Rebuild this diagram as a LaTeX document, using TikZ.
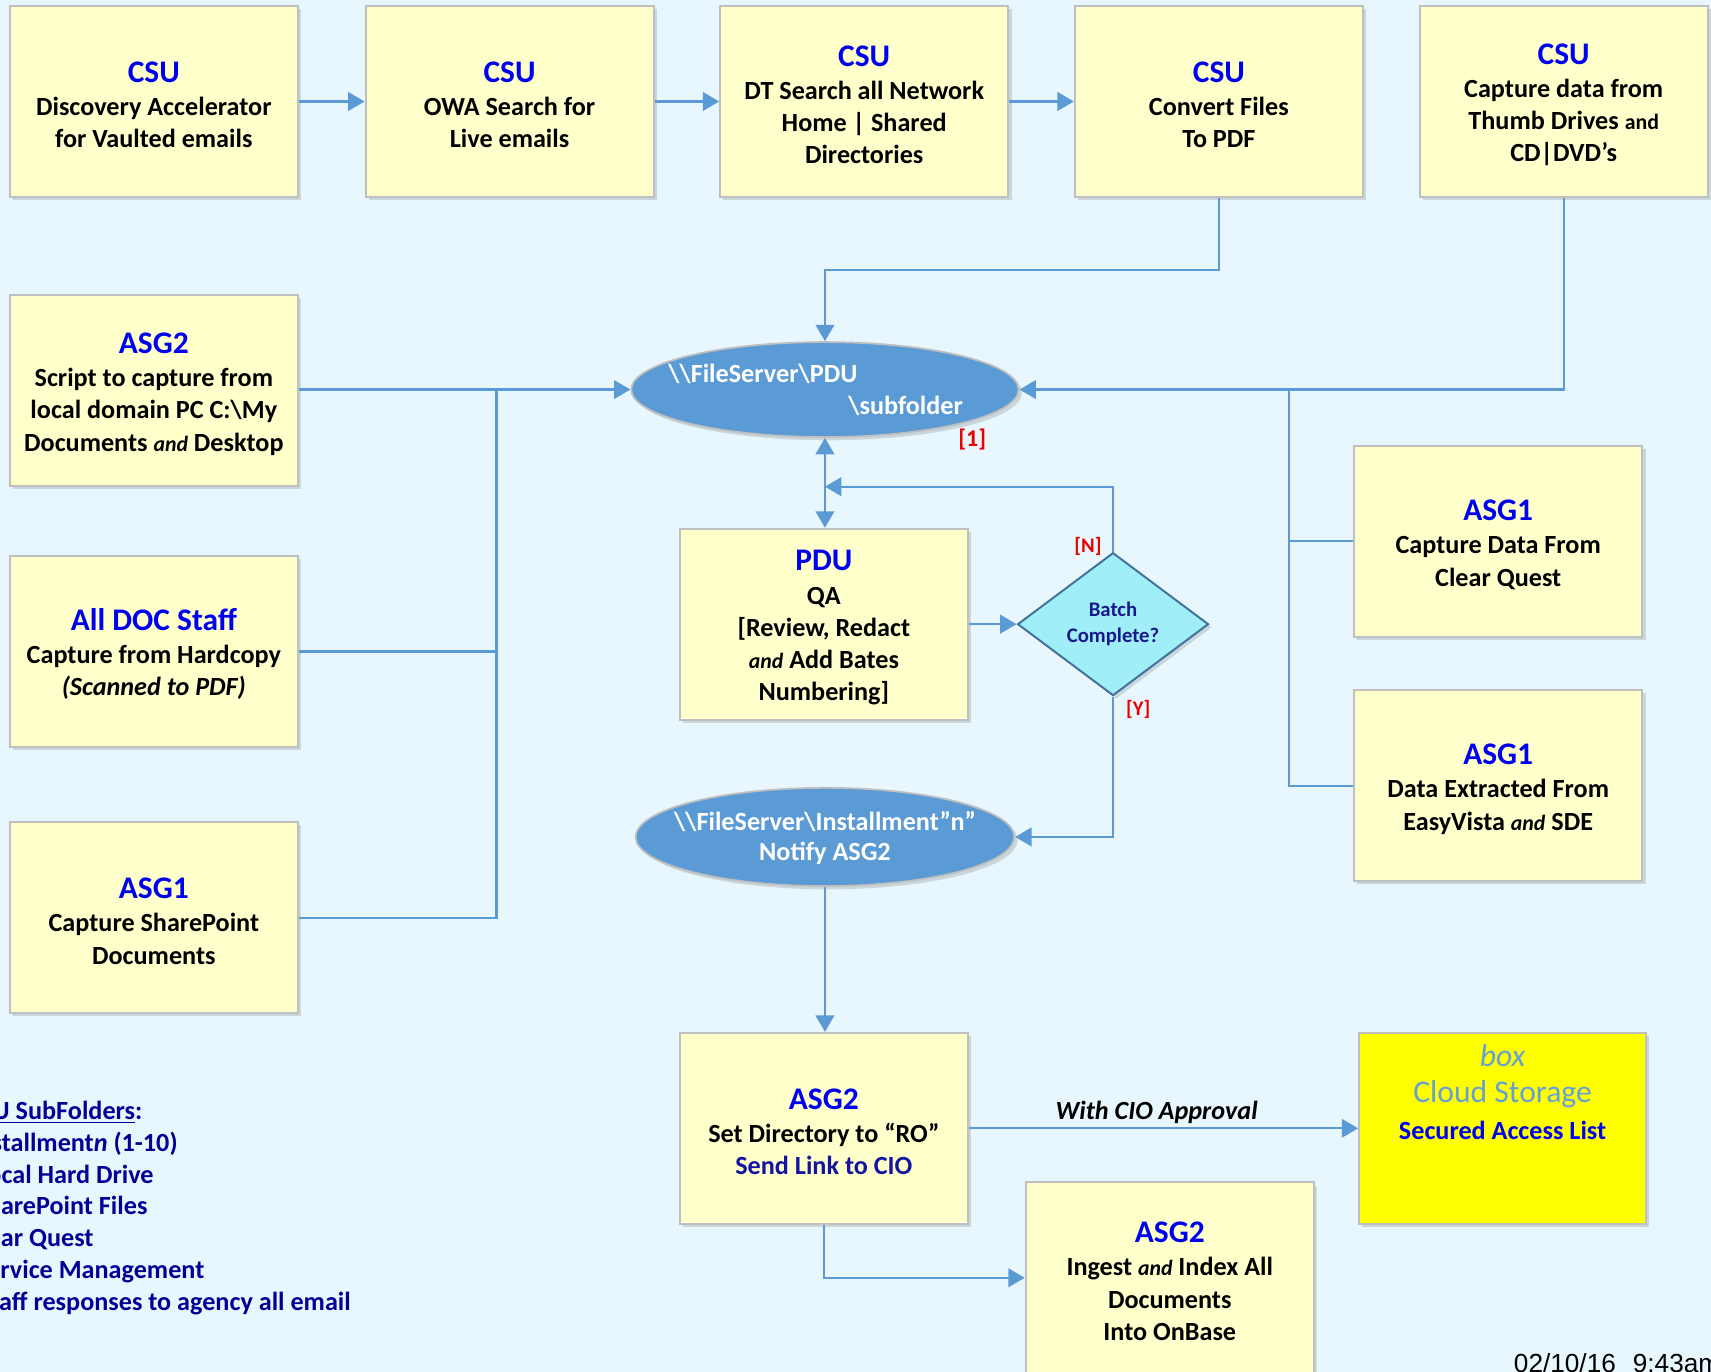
\documentclass[tikz,border=0pt]{standalone}
\usepackage{fontspec}
\setmainfont{Carlito}
\newfontfamily\datefont{Liberation Sans}
\usetikzlibrary{shapes.geometric, arrows.meta, shadows}
\definecolor{bg}{RGB}{232,247,253}
\definecolor{boxfill}{RGB}{255,255,204}
\definecolor{boxgray}{RGB}{191,191,191}
\definecolor{titleblue}{RGB}{0,0,240}
\definecolor{navy}{RGB}{0,0,150}
\definecolor{sendblue}{RGB}{20,20,160}
\definecolor{conncol}{RGB}{91,155,213}
\definecolor{diafill}{RGB}{160,238,248}
\definecolor{diadraw}{RGB}{65,113,156}
\definecolor{diatext}{RGB}{25,25,140}
\definecolor{cloudtxt}{RGB}{100,160,215}
\definecolor{ylw}{RGB}{255,255,0}
\definecolor{lred}{RGB}{235,0,0}
\newlength\hidw
\newcommand\legline[2]{\settowidth{\hidw}{#1}\hspace*{-\hidw}#1#2}
\newcommand\bodyf{\fontsize{12}{14.75}\selectfont\bfseries}
\newcommand\ttl[1]{{\fontsize{14.4}{17}\selectfont\color{titleblue}\rule{0pt}{12.5pt}#1}}
\newcommand\andi{{\fontsize{10}{12}\selectfont\itshape and}}
\begin{document}
\begin{tikzpicture}[x=0.5pt,y=-0.5pt,
  shad/.style={drop shadow={shadow xshift=1.5pt, shadow yshift=-1.5pt, opacity=0.13, fill=black}},
  proc/.style={rectangle, draw=boxgray, line width=0.9pt, fill=boxfill,
    minimum width=132pt, minimum height=87.5pt, inner sep=1pt, align=center,
    font=\bodyf, shad},
  conn/.style={draw=conncol, line width=1pt, -{Triangle[length=7.5pt,width=8.5pt]}},
  conn2/.style={draw=conncol, line width=1pt, {Triangle[length=7.5pt,width=8.5pt]}-{Triangle[length=7.5pt,width=8.5pt]}},
  wire/.style={draw=conncol, line width=1pt},
  ell/.style={ellipse, draw=boxgray, line width=0.8pt, fill=conncol, inner sep=0pt, shad},
  etext/.style={text=white, font=\bodyf, inner sep=0pt},
  redlab/.style={text=lred, inner sep=0pt},
  leg/.style={text=navy, font=\bodyf, inner sep=0pt, anchor=base west}]

\path[use as bounding box, clip] (0,0) rectangle (1568,1257);
\fill[bg] (0,0) rectangle (1568,1257);

% top row
\node[proc] (B1) at (141,93) {\ttl{CSU}\\[0.6pt] Discovery Accelerator\\ for Vaulted emails};
\node[proc] (B2) at (467,93) {\ttl{CSU}\\[0.6pt] OWA Search for\\ Live emails};
\node[proc] (B3) at (792,93) {\ttl{CSU}\\[0.6pt] DT Search all Network\\ Home | Shared\\ Directories};
\node[proc] (B4) at (1117,93) {\ttl{CSU}\\[0.6pt] Convert Files\\ To PDF};
\node[proc] (B5) at (1433,93) {\ttl{CSU}\\[0.6pt] Capture data from\\ Thumb Drives {\fontsize{10}{12}\selectfont and}\\ CD|DVD’s};

% left column
\node[proc] (L1) at (141,358) {\ttl{ASG2}\\[0.6pt] Script to capture from\\ local domain PC C:\textbackslash My\\ Documents \andi{} Desktop};
\node[proc] (L2) at (141,597) {\ttl{All DOC Staff}\\[0.6pt] Capture from Hardcopy\\ \textit{(Scanned to PDF)}};
\node[proc] (L3) at (141,841) {\ttl{ASG1}\\[0.6pt] Capture SharePoint\\ Documents};

% right column
\node[proc] (R1) at (1373,496) {\ttl{ASG1}\\[0.6pt] Capture Data From\\ Clear Quest};
\node[proc] (R2) at (1373,720) {\ttl{ASG1}\\[0.6pt] Data Extracted From\\ EasyVista \andi{} SDE};

% centre
\node[ell, minimum width=177.5pt, minimum height=43.5pt] (E1) at (756,357) {};
\node[etext, anchor=west] (E1a) at (612,343) {\textbackslash\textbackslash FileServer\textbackslash PDU};
\node[etext, anchor=west] (E1b) at (777,372) {\textbackslash subfolder};
\node[redlab, font=\fontsize{11}{13}\selectfont\bfseries] (lab1) at (891,403) {[1]};

\node[proc] (P) at (755,572) {\ttl{PDU}\\[0.6pt] QA\\{}[Review, Redact\\ \andi{} Add Bates\\ Numbering]};

\node[diamond, draw=diadraw, line width=0.9pt, fill=diafill, minimum width=87.5pt, minimum height=65.5pt,
  inner sep=0pt, align=center, text=diatext, font=\fontsize{9.5}{11.8}\selectfont\bfseries, shad] (D) at (1020,572) {Batch\\ Complete?};
\node[redlab, font=\fontsize{9.5}{11}\selectfont\bfseries] (labN) at (997,501) {[N]};
\node[redlab, font=\fontsize{9.5}{11}\selectfont\bfseries] (labY) at (1043,650) {[Y]};

\node[ell, minimum width=173.5pt, minimum height=45pt] (E2) at (756,767) {};
\node[etext] (E2a) at (756,753) {\textbackslash\textbackslash FileServer\textbackslash Installment”n”};
\node[etext] (E2b) at (756,782) {Notify ASG2};

\node[proc] (S) at (755,1034) {\ttl{ASG2}\\[0.6pt] Set Directory to “RO”\\ {\color{sendblue}Send Link to CIO}};
\node[proc] (I) at (1072,1171) {\ttl{ASG2}\\[0.6pt] Ingest \andi{} Index All\\ Documents\\ Into OnBase};

\node[rectangle, draw=boxgray, line width=0.9pt, fill=ylw, minimum width=131.5pt, minimum height=87.5pt, shad] (C) at (1377,1034) {};
\node[inner sep=0pt, text=cloudtxt, font=\fontsize{14.5}{17}\selectfont\itshape] (C1) at (1377,967) {box};
\node[inner sep=0pt, text=cloudtxt, font=\fontsize{14.5}{17}\selectfont] (C2) at (1377,1003) {Cloud Storage};
\node[inner sep=0pt, text=titleblue, font=\bodyf] (C3) at (1377,1036) {Secured Access List};

\node[inner sep=0pt, font=\fontsize{12}{14}\selectfont\bfseries\itshape] (lab) at (1060,1019) {With CIO Approval};

% connectors
\coordinate (jl) at (455,357);
\coordinate (jr) at (1181,357);
\coordinate (fb) at (756,446);

\draw[conn] (B1) -- (B2);
\draw[conn] (B2) -- (B3);
\draw[conn] (B3) -- (B4);
\draw[conn] (B4.south) -- ++(0,66) -| (E1.north);
\draw[conn] (B5.south) |- (E1.east);
\draw[wire] (R1.west) -- (R1.west -| jr);
\draw[wire] (R2.west) -| (jr);
\draw[conn] (L1.west -| L1.east) ++(0,-1) -- (E1.west);
\draw[wire] (L2.east) -- (L2.east -| jl);
\draw[wire] (L3.east) -| (jl);
\draw[conn2] (E1.south) -- (E1.south |- P.north);
\draw[conn] (P.east) -- (D.west);
\draw[conn] (D.north) |- (fb);
\draw[conn] (D.south) |- (E2.east);
\draw[conn] (E2.south) -- (E2.south |- S.north);
\draw[conn] (S.east) -- (C.west);
\draw[conn] (S.south) |- (I.west);

% legend (clipped at the left edge, as in the original)
\node[leg] (lg1) at (14,1026) {\legline{\underline{PDU }}{\underline{SubFolders}}:};
\node[leg] (lg2) at (1.5,1055.4) {\legline{Ins}{tallment\textit{n} (1-10)}};
\node[leg] (lg3) at (1,1084.3) {\legline{Lo}{cal Hard Drive}};
\node[leg] (lg4) at (0.5,1113.4) {\legline{Sh}{arePoint Files}};
\node[leg] (lg5) at (0.5,1142.5) {\legline{Cle}{ar Quest}};
\node[leg] (lg6) at (0,1171.6) {\legline{Se}{rvice Management}};
\node[leg] (lg7) at (-1,1200.6) {\legline{St}{aff responses to agency all email}};

% date
\node[inner sep=0pt, anchor=base west, font=\datefont\fontsize{12}{14}\selectfont] (dt) at (1387,1258) {02/10/16\hspace{7.8pt}9:43am};
\end{tikzpicture}
\end{document}
